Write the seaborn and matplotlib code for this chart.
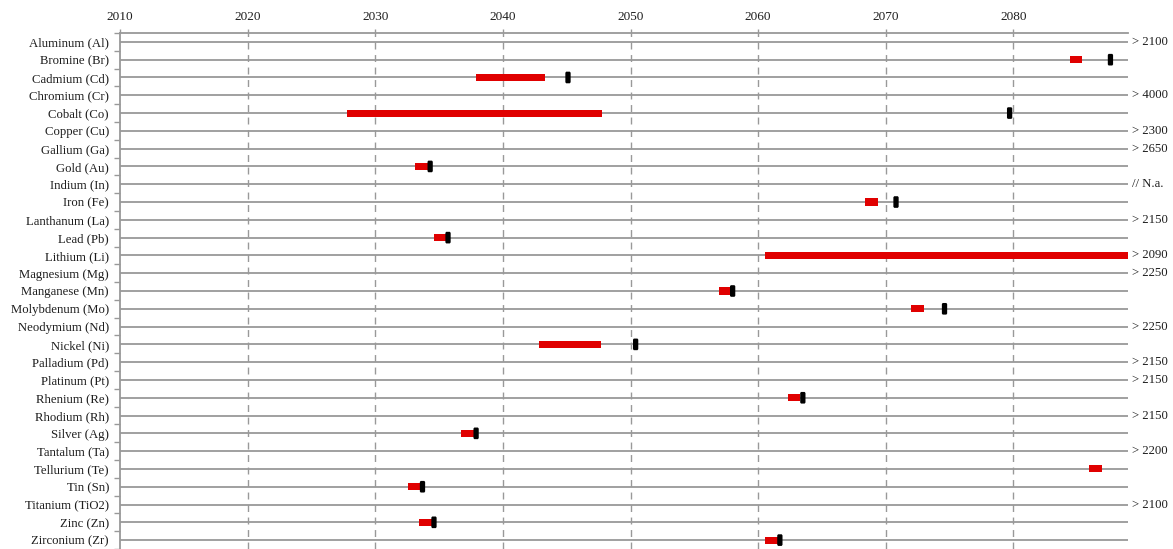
import numpy as np
import pandas as pd
import matplotlib
matplotlib.use("Agg")
import matplotlib.pyplot as plt
from matplotlib.ticker import FixedLocator
import seaborn as sns

elements = [
    "Aluminum (Al)", "Bromine (Br)", "Cadmium (Cd)", "Chromium (Cr)", "Cobalt (Co)",
    "Copper (Cu)", "Gallium (Ga)", "Gold (Au)", "Indium (In)", "Iron (Fe)",
    "Lanthanum (La)", "Lead (Pb)", "Lithium (Li)", "Magnesium (Mg)", "Manganese (Mn)",
    "Molybdenum (Mo)", "Neodymium (Nd)", "Nickel (Ni)", "Palladium (Pd)", "Platinum (Pt)",
    "Rhenium (Re)", "Rhodium (Rh)", "Silver (Ag)", "Tantalum (Ta)", "Tellurium (Te)",
    "Tin (Sn)", "Titanium (TiO2)", "Zinc (Zn)", "Zirconium (Zr)",
]
nan = np.nan
# depletion year range (red) and single estimate (black)
range_start = [nan, 2084.4, 2037.9, nan, 2027.8, nan, nan, 2033.1, nan, 2068.4,
               nan, 2034.6, 2060.5, nan, 2056.9, 2072.0, nan, 2042.8, nan, nan,
               2062.3, nan, 2036.7, nan, 2085.9, 2032.6, nan, 2033.4, 2060.5]
range_end = [nan, 2085.4, 2043.3, nan, 2047.8, nan, nan, 2034.2, nan, 2069.4,
             nan, 2035.6, 2090.0, nan, 2057.9, 2073.0, nan, 2047.7, nan, nan,
             2063.3, nan, 2037.7, nan, 2086.9, 2033.6, nan, 2034.5, 2061.6]
point_year = [nan, 2087.6, 2045.1, nan, 2079.7, nan, nan, 2034.3, nan, 2070.8,
              nan, 2035.7, nan, nan, 2058.0, 2074.6, nan, 2050.4, nan, nan,
              2063.5, nan, 2037.9, nan, nan, 2033.7, nan, 2034.6, 2061.7]
notes = ["> 2100", "", "", "> 4000", "", "> 2300", "> 2650", "", "// N.a.", "",
         "> 2150", "", "> 2090", "> 2250", "", "", "> 2250", "", "> 2150", "> 2150",
         "", "> 2150", "", "> 2200", "", "", "> 2100", "", ""]
year_ticks = [2010, 2020, 2030, 2040, 2050, 2060, 2070, 2080]

df = pd.DataFrame({"element": elements, "start": range_start, "end": range_end,
                   "point": point_year, "note": notes})
df["row"] = np.arange(len(df))

sns.set_theme(style="white")
plt.rcParams["font.family"] = ["Liberation Serif", "DejaVu Serif"]

fig = plt.figure(figsize=(11.73, 5.49), dpi=100)
ax = fig.add_axes([0.1023, 0.0, 0.8596, 0.9399])

grid_col = "#999999"
text_col = "#1e1e1e"
ax.set_xlim(2010, 2089)
ax.set_ylim(len(df) - 0.5, -0.5)

# row lines and dashed year lines
ax.hlines(df["row"], 2010, 2089, color=grid_col, lw=1.3, zorder=1)
for yr in year_ticks[1:]:
    ax.axvline(yr, color=grid_col, lw=1.0, ls=(0, (5, 4)), zorder=1)

# red ranges
rng = df.dropna(subset=["start"])
ax.barh(rng["row"], rng["end"] - rng["start"], left=rng["start"], height=0.4,
        color="#E00000", edgecolor="none", zorder=3)

# black point estimates
capsule = [(-1, -1.8), (-0.7, -2.2), (0.7, -2.2), (1, -1.8), (1, 1.8),
           (0.7, 2.2), (-0.7, 2.2), (-1, 1.8)]
pts = df.dropna(subset=["point"])
sns.scatterplot(data=pts, x="point", y="row", marker=capsule, s=70,
                color="black", edgecolor="none", linewidth=0, ax=ax, zorder=4,
                legend=False)

# right-hand notes
for r, txt in zip(df["row"], df["note"]):
    if txt:
        ax.annotate(txt, xy=(1.0, r), xycoords=ax.get_yaxis_transform(),
                    xytext=(3, 0), textcoords="offset points",
                    ha="left", va="center", fontsize=9.2, color=text_col)

# axes styling
ax.xaxis.tick_top()
ax.set_xticks(year_ticks)
ax.set_xticklabels([str(y) for y in year_ticks], fontsize=9.5, color=text_col)
ax.tick_params(axis="x", top=True, length=3, width=1, color=grid_col, pad=4)
ax.set_yticks(df["row"])
ax.set_yticklabels(df["element"], fontsize=9.2, color=text_col)
ax.tick_params(axis="y", which="major", left=False, length=0, pad=8)
ax.yaxis.set_minor_locator(FixedLocator(np.arange(-0.5, len(df), 1.0)))
ax.tick_params(axis="y", which="minor", left=True, length=4, width=1, color=grid_col)
ax.set_xlabel("")
ax.set_ylabel("")

for side in ["right", "bottom"]:
    ax.spines[side].set_visible(False)
ax.spines["left"].set_color(grid_col)
ax.spines["left"].set_linewidth(1.3)
ax.spines["top"].set_color(grid_col)
ax.spines["top"].set_linewidth(1.3)

fig.savefig("out.png", dpi=100)
